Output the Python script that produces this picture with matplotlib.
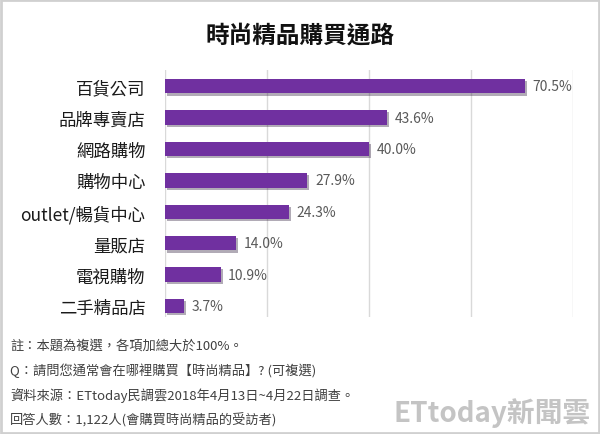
import matplotlib
matplotlib.use("Agg")
import matplotlib.pyplot as plt
from matplotlib import patches
import matplotlib.patheffects as pe

plt.rcParams['font.family'] = ['Noto Sans CJK TC', 'DejaVu Sans']

# Data
categories = ['百貨公司', '品牌專賣店', '網路購物', '購物中心', 'outlet/暢貨中心',
              '量販店', '電視購物', '二手精品店']
values = [70.5, 43.6, 40.0, 27.9, 24.3, 14.0, 10.9, 3.7]
xticks = [0, 20, 40, 60, 80]

notes = ['註：本題為複選，各項加總大於100%。',
         'Q：請問您通常會在哪裡購買【時尚精品】? (可複選)',
         '資料來源：ETtoday民調雲2018年4月13日~4月22日調查。',
         '回答人數：1,122人(會購買時尚精品的受訪者)']

fig = plt.figure(figsize=(6, 4.35), dpi=100)
ax = fig.add_axes([0.275, 0.269, 0.68, 0.568])

ypos = list(range(len(categories)))
bars = ax.barh(ypos, values, height=0.46, color='#7030A0', zorder=3,
               path_effects=[pe.SimplePatchShadow(offset=(1.5, -1.5), alpha=0.35),
                             pe.Normal()])

for y, v in zip(ypos, values):
    ax.text(v + 1.5, y, f'{v:.1f}%', va='center', ha='left',
            fontsize=10, color='#595959')

ax.set_xlim(0, 80)
ax.set_ylim(7.35, -0.52)
ax.set_xticks(xticks)
ax.set_xticklabels([])
ax.set_yticks(ypos)
ax.set_yticklabels(categories, fontsize=12.5, color='#1a1a1a')
ax.tick_params(axis='both', length=0)
ax.tick_params(axis='y', pad=14)
ax.grid(axis='x', color='#d9d9d9', linewidth=1, zorder=0)
for s in ax.spines.values():
    s.set_visible(False)

# title
fig.text(0.5, 0.918, '時尚精品購買通路', ha='center', va='center',
         fontsize=17, fontweight='bold', color='#111111')

# footnotes
for i, line in enumerate(notes):
    fig.text(0.017, 1 - (346 + i * 24.7) / 435, line, ha='left', va='center',
             fontsize=9.5, color='#404040')

# watermark
fig.text(0.985, 1 - 413 / 435, 'ETtoday新聞雲', ha='right', va='center',
         fontsize=20, fontweight='bold', color='#c4c4c4')

# outer frame
fig.patches.append(patches.Rectangle((0.002, 0.002), 0.996, 0.996, fill=False,
                                     edgecolor='#d0d0d0', linewidth=2,
                                     transform=fig.transFigure))

fig.savefig('out.png', dpi=100)
